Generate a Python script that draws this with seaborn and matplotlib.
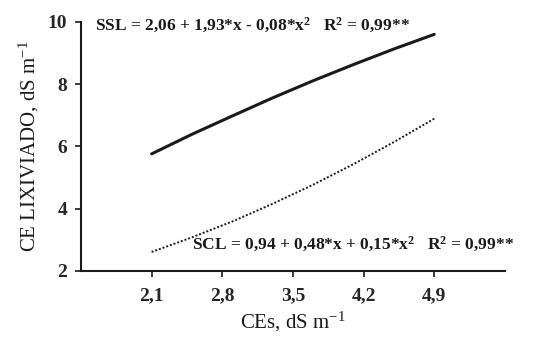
import matplotlib
matplotlib.use("Agg")
import matplotlib.pyplot as plt
import seaborn as sns
import pandas as pd

# Data
ces = [2.1, 2.5, 2.9, 3.3, 3.7, 4.1, 4.5, 4.9]
ssl = [5.76, 6.39, 6.98, 7.56, 8.11, 8.63, 9.13, 9.60]
scl = [2.61, 3.08, 3.59, 4.16, 4.77, 5.43, 6.14, 6.89]
xticks = [2.1, 2.8, 3.5, 4.2, 4.9]
xticklabels = ["2,1", "2,8", "3,5", "4,2", "4,9"]
yticks = [2, 4, 6, 8, 10]

sns.set_style("ticks")
plt.rcParams['font.family'] = ['Liberation Serif', 'DejaVu Serif']
plt.rcParams['mathtext.fontset'] = 'custom'
plt.rcParams['mathtext.rm'] = 'Liberation Serif'
plt.rcParams['mathtext.bf'] = 'Liberation Serif:bold'
plt.rcParams['mathtext.it'] = 'Liberation Serif:italic'

df = pd.DataFrame({"CEs": ces + ces,
                   "CE": ssl + scl,
                   "Serie": ["SSL"] * len(ces) + ["SCL"] * len(ces)})

fig = plt.figure(figsize=(5.47, 3.37), dpi=100)
ax = fig.add_axes([0.148, 0.196, 0.775, 0.739])

sns.lineplot(data=df[df.Serie == "SSL"], x="CEs", y="CE", ax=ax,
             color="#1a1a1a", linewidth=2.2, linestyle="-", legend=False)
sns.lineplot(data=df[df.Serie == "SCL"], x="CEs", y="CE", ax=ax,
             color="#1a1a1a", linewidth=1.4, linestyle=(0, (1, 1)), legend=False)

ax.set_xlim(1.4, 5.6)
ax.set_ylim(2, 10)
ax.set_xticks(xticks)
ax.set_xticklabels(xticklabels)
ax.set_yticks(yticks)
for lab in ax.get_xticklabels() + ax.get_yticklabels():
    lab.set_fontweight("bold")
    lab.set_fontsize(14)
ax.tick_params(axis="both", direction="out", length=4, width=1.2, color="#1a1a1a")
ax.tick_params(axis="y", pad=6)
ax.tick_params(axis="x", pad=8)
for s in ["top", "right"]:
    ax.spines[s].set_visible(False)
for s in ["left", "bottom"]:
    ax.spines[s].set_linewidth(1.5)
    ax.spines[s].set_color("#1a1a1a")

ax.set_xlabel(r"CEs, dS m$^{-1}$", fontsize=15, labelpad=4, color="#1a1a1a")
ax.set_ylabel(r"CE LIXIVIADO, dS m$^{-1}$", fontsize=15, labelpad=5, color="#1a1a1a")

ax.text(1.54, 9.9, r"SSL = 2,06 + 1,93*x - 0,08*x$^\mathbf{2}$   R$^\mathbf{2}$ = 0,99**",
        fontsize=12.5, fontweight="bold", va="center", ha="left", color="#1a1a1a")
ax.text(2.5, 2.84, r"SCL = 0,94 + 0,48*x + 0,15*x$^\mathbf{2}$   R$^\mathbf{2}$ = 0,99**",
        fontsize=12.5, fontweight="bold", va="center", ha="left", color="#1a1a1a",
        clip_on=False)

fig.savefig("out.png", dpi=100)
